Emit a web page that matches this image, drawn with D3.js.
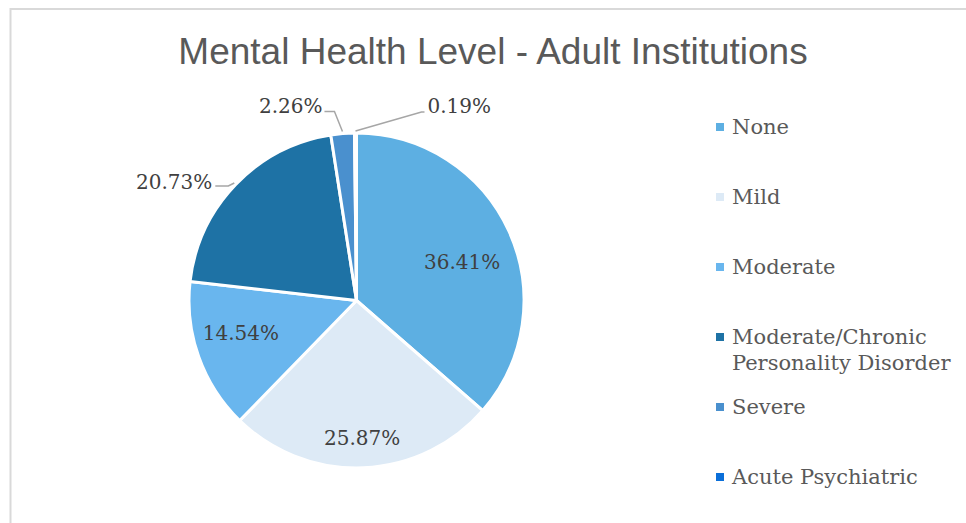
<!DOCTYPE html>
<html>
<head>
<meta charset="utf-8">
<script src="https://cdn.jsdelivr.net/npm/d3@7"></script>
<style>
html,body{margin:0;padding:0;background:#fff;}
svg{display:block;}
</style>
</head>
<body>
<svg id="chart" width="966" height="523"></svg>
<script>
// ---- data ----
const categories = ["None", "Mild", "Moderate", "Moderate/Chronic Personality Disorder", "Severe", "Acute Psychiatric"];
const values = [36.41, 25.87, 14.54, 20.73, 2.26, 0.19];
const labels = ["36.41%", "25.87%", "14.54%", "20.73%", "2.26%", "0.19%"];
const colors = ["#5DAFE2", "#DDEAF6", "#69B6EE", "#1E72A5", "#4A90CE", "#0B6FD9"];
const title = "Mental Health Level - Adult Institutions";

const W = 966, H = 523;
const svg = d3.select("#chart");
const serif = "'DejaVu Serif', Georgia, serif";

// frame
svg.append("path")
  .attr("d", `M10.5,${H} L10.5,9 L${W},9`)
  .attr("fill", "none").attr("stroke", "#d9d9d9").attr("stroke-width", 2);

// title
svg.append("text")
  .attr("x", 493).attr("y", 64)
  .attr("text-anchor", "middle")
  .attr("font-family", "'Liberation Sans', Arial, sans-serif")
  .attr("font-size", 37)
  .attr("fill", "#595959")
  .text(title);

// pie
const cx = 356.5, cy = 300.5, R = 167.5;
const g = svg.append("g").attr("transform", `translate(${cx},${cy})`);
const pie = d3.pie().sort(null).value(d => d)(values);
const arc = d3.arc().innerRadius(0).outerRadius(R);

g.selectAll("path.slice").data(pie).enter().append("path")
  .attr("class", "slice")
  .attr("d", arc)
  .attr("fill", (d, i) => colors[i])
  .attr("stroke", "#fff").attr("stroke-width", 3).attr("stroke-linejoin", "round");

// inside labels: radial factor and small nudge per slice
const inside = {0: [0.64, 8, 6], 1: [0.82, 0, 0], 2: [0.72, -2, -8]};
pie.forEach((d, i) => {
  if (!(i in inside)) return;
  const [f, nx, ny] = inside[i];
  const r = R * f;
  const a = (d.startAngle + d.endAngle) / 2;
  g.append("text")
    .attr("x", Math.sin(a) * r + nx).attr("y", -Math.cos(a) * r + ny)
    .attr("text-anchor", "middle").attr("dominant-baseline", "central")
    .attr("font-family", serif).attr("font-size", 20).attr("fill", "#404040")
    .text(labels[i]);
});

// outside labels with leader lines (elbow offsets relative to slice edge point)
const outside = {
  3: {elbow: [-6, 3], end: [-19, 3], anchor: "end", tx: -22, ty: -1},
  4: {elbow: [-8, -20], end: [-18, -20], anchor: "end", tx: -20, ty: -26},
  5: {elbow: [66, -19], end: [69, -19], anchor: "start", tx: 72, ty: -25}
};
pie.forEach((d, i) => {
  const o = outside[i];
  if (!o) return;
  const a = (d.startAngle + d.endAngle) / 2;
  const px = Math.sin(a) * (R + 2), py = -Math.cos(a) * (R + 2);
  const line = d3.line();
  g.append("path")
    .attr("d", line([[px, py], [px + o.elbow[0], py + o.elbow[1]], [px + o.end[0], py + o.end[1]]]))
    .attr("fill", "none").attr("stroke", "#a6a6a6").attr("stroke-width", 1.5);
  g.append("text")
    .attr("x", px + o.tx).attr("y", py + o.ty)
    .attr("text-anchor", o.anchor).attr("dominant-baseline", "central")
    .attr("font-family", serif).attr("font-size", 20).attr("fill", "#404040")
    .text(labels[i]);
});

// legend
const legendX = 716;
const legend = svg.append("g");
const legendLines = [["None"], ["Mild"], ["Moderate"], ["Moderate/Chronic", "Personality Disorder"], ["Severe"], ["Acute Psychiatric"]];
const rowY = [127, 197, 267, 337, 407, 477];
categories.forEach((c, i) => {
  const y = rowY[i];
  legend.append("rect")
    .attr("x", legendX).attr("y", y - 4).attr("width", 8).attr("height", 8)
    .attr("fill", colors[i]);
  legendLines[i].forEach((t, k) => {
    legend.append("text")
      .attr("x", legendX + 16).attr("y", y + k * 26)
      .attr("dominant-baseline", "central")
      .attr("font-family", serif).attr("font-size", 21).attr("fill", "#595959")
      .text(t);
  });
});
</script>
</body>
</html>
